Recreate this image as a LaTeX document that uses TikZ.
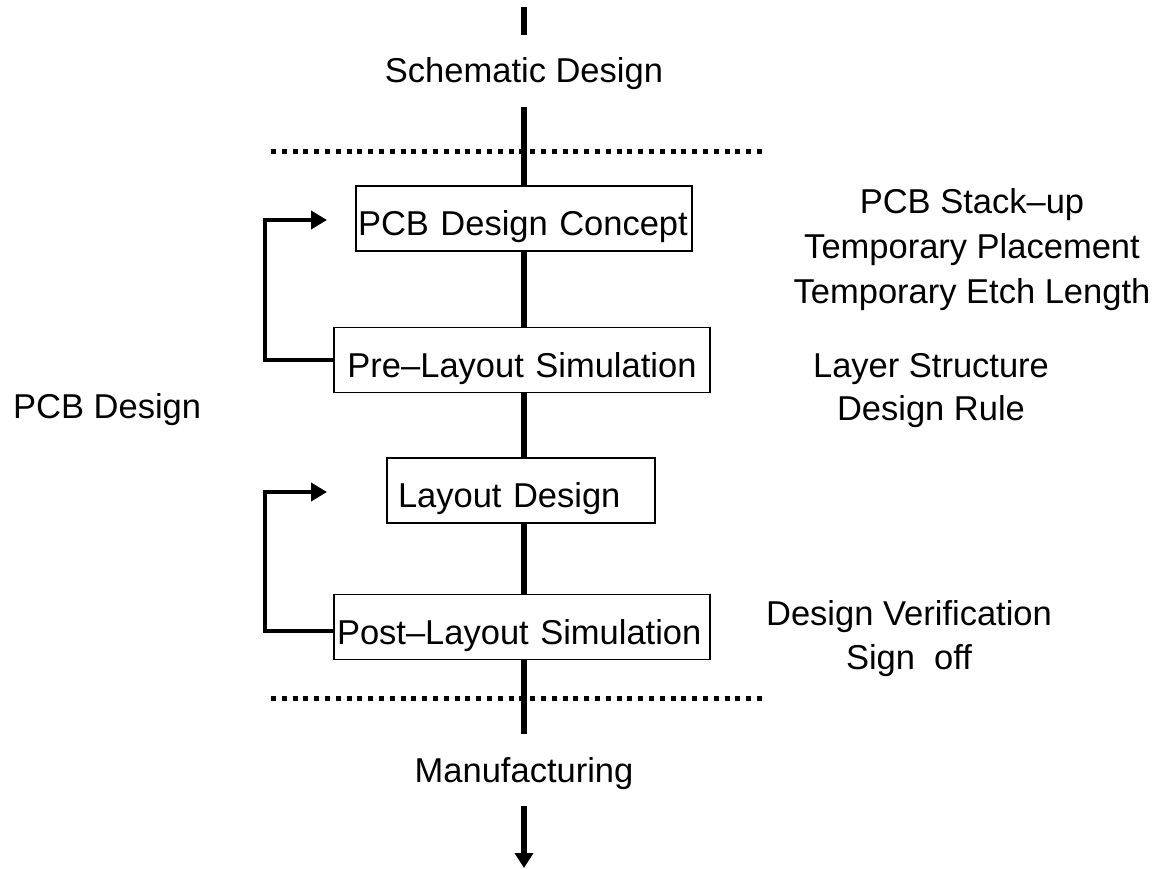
\documentclass[tikz,border=0pt]{standalone}
\usepackage{fontspec}
\setmainfont{Liberation Sans}
\usetikzlibrary{arrows.meta}
\begin{document}
\begin{tikzpicture}[x=1pt,y=-1pt,
  spine/.style={line width=5.5pt},
  loopline/.style={line width=4.7pt,-{Triangle[length=16pt,width=18pt]}},
  stage/.style={draw,line width=1.8pt,inner ysep=0pt,minimum height=65pt,
    text height=34pt,text depth=0pt,font=\fontsize{34.5}{40}\selectfont},
  txt/.style={font=\fontsize{34.5}{44}\selectfont,align=center,inner sep=0pt},
  divider/.style={line width=5pt,dash pattern=on 5pt off 5.8pt}]
\useasboundingbox (0,0) rectangle (1159,869);

% phase boundaries
\draw[divider] (271,152) -- (767,152);
\draw[divider] (271,698) -- (767,698);

% stages of the PCB design phase
\node[stage,text width=332pt,align=left,inner xsep=2pt] (concept) at (524,218.5) {PCB Design Concept};
\node[stage,text width=350pt,align=center,inner xsep=13pt] (presim) at (522,360) {Pre–Layout Simulation};
\node[stage,text width=246pt,align=left,inner xsep=11pt] (layout) at (521,490.5) {Layout Design};
\node[stage,text width=370pt,align=left,inner xsep=3pt] (postsim) at (522,627) {Post–Layout Simulation};

% phase labels
\node[txt,anchor=base] (schem) at (524,83) {Schematic Design};
\node[txt,anchor=base] (mfg) at (524,782) {Manufacturing};
\node[txt,anchor=base west] (pcb) at (13,418) {PCB Design};

% notes beside the stages (anchored on the last line's baseline)
\node[txt,font=\fontsize{34.5}{45}\selectfont,anchor=base] (notes1) at (972,303) {PCB Stack–up\\Temporary Placement\\Temporary Etch Length};
\node[txt,font=\fontsize{34.5}{43}\selectfont,anchor=base] (notes2) at (931,420) {Layer Structure\\Design Rule};
\node[txt,anchor=base] (notes3) at (909,669) {Design Verification\\Sign\ \ off};

% main flow
\coordinate (inA) at (524,7);
\coordinate (inB) at (524,35);
\coordinate (flow) at (524,107);
\coordinate (mfgA) at (524,734);
\coordinate (outA) at (524,806);
\coordinate (outB) at (524,868);
\draw[spine] (inA) -- (inB);
\draw[spine] (flow) -- (concept.north -| flow);
\draw[spine] (concept.south -| flow) -- (presim.north -| flow);
\draw[spine] (presim.south -| flow) -- (layout.north -| flow);
\draw[spine] (layout.south -| flow) -- (postsim.north -| flow);
\draw[spine] (postsim.south -| flow) -- (mfgA);
\draw[spine,-{Triangle[length=15pt,width=18pt]}] (outA) -- (outB);

% feedback loops
\coordinate (fbx) at (265,0);
\coordinate (tip1) at (327,220);
\coordinate (tip2) at (327,492);
\coordinate (ret2) at (0,631);
\draw[loopline] (presim.west) -- (presim.west -| fbx) |- (tip1);
\draw[loopline] (ret2 -| postsim.west) -- (ret2 -| fbx) |- (tip2);
\end{tikzpicture}
\end{document}
